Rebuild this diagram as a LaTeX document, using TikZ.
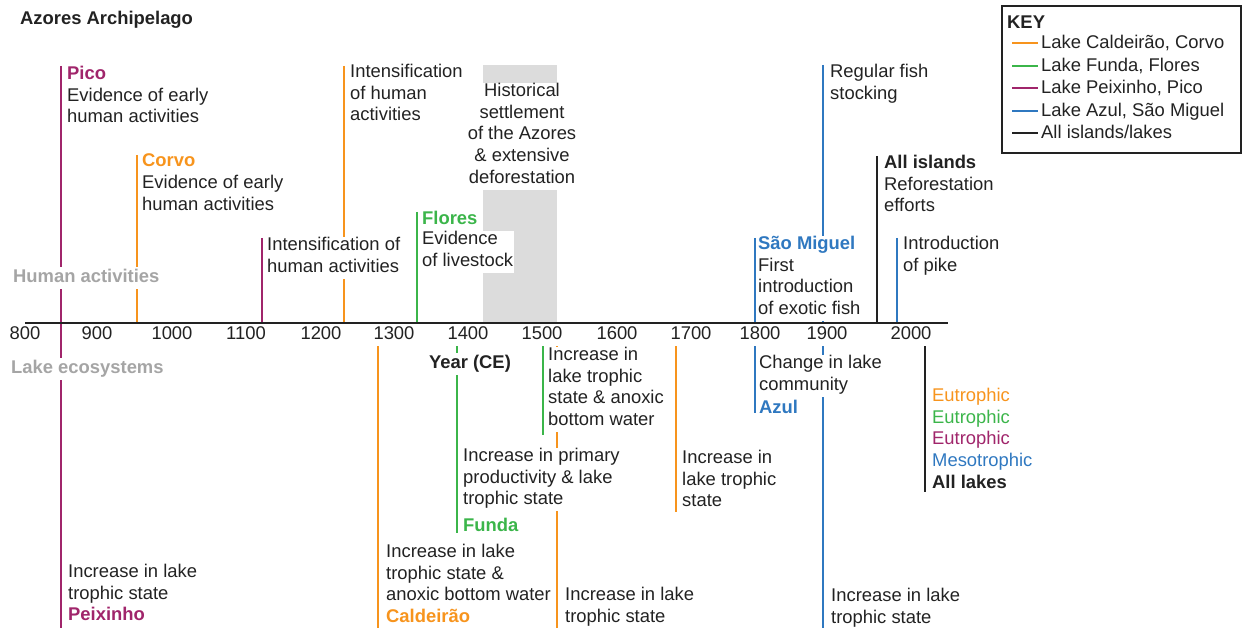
\documentclass[tikz,border=0pt]{standalone}
\usepackage{fontspec}
\setmainfont{Liberation Sans}
\definecolor{cor}{HTML}{F7941D}
\definecolor{cgr}{HTML}{3BB54A}
\definecolor{cmg}{HTML}{A0256B}
\definecolor{cbl}{HTML}{2F78C0}
\definecolor{cgy}{HTML}{A5A5A5}
\definecolor{cbox}{HTML}{DCDCDC}
\definecolor{ctx}{HTML}{222222}
\newcommand\myfs{\fontsize{18.4}{21.8}\selectfont}
\begin{document}
\begin{tikzpicture}[x=1pt,y=-1pt,
  vl/.style={line width=2.8pt},
  txt/.style={anchor=north west, align=left, inner xsep=1pt, inner ysep=0pt, font=\myfs, text=ctx,
    execute at begin node=\strut, execute at end node=\strut},
  txtw/.style={txt, fill=white},
  tick/.style={anchor=north, inner xsep=1pt, inner ysep=0pt, font=\myfs, text=ctx, fill=white,
    execute at begin node=\strut},
  keytxt/.style={anchor=base west, inner sep=0pt, font=\myfs, text=ctx}]
\useasboundingbox (0,0) rectangle (1245,628);

% gray settlement band
\fill[cbox] (483,65) rectangle (557,323);

% vertical lines (upper)
\draw[vl,cmg] (61,66) -- (61,628);
\draw[vl,cor] (137,155) -- (137,323);
\draw[vl,cmg] (262,238) -- (262,323);
\draw[vl,cor] (344,66) -- (344,323);
\draw[vl,cgr] (417,212) -- (417,323);
\draw[vl,cbl] (755,238) -- (755,413);
\draw[vl,cbl] (823,65) -- (823,628);
\draw[vl,ctx] (877,156) -- (877,323);
\draw[vl,cbl] (897,238) -- (897,323);
% vertical lines (lower)
\draw[vl,cor] (378,323) -- (378,628);
\draw[vl,cgr] (457,323) -- (457,533);
\draw[vl,cgr] (543,323) -- (543,435);
\draw[vl,cor] (557,323) -- (557,628);
\draw[vl,cor] (676,323) -- (676,512);
\draw[vl,ctx] (925,323) -- (925,492);

% title
\node[txt,font=\myfs\bfseries] (title) at (19,8.7) {Azores Archipelago};

% side labels
\node[txtw,font=\myfs\bfseries,text=cgy] (human) at (12,266.7) {Human activities};
\node[txtw,font=\myfs\bfseries,text=cgy] (lake) at (10,357.7) {Lake ecosystems};

% upper events
\node[txt] (pico) at (66,65.7) {\textcolor{cmg}{\textbf{Pico}}\\Evidence of early\\human activities};
\node[txt] (corvo) at (141,153.7) {\textcolor{cor}{\textbf{Corvo}}\\Evidence of early\\human activities};
\node[txtw] (intA) at (266,236.7) {Intensification of\\human activities};
\node[txt] (intB) at (349,63.7) {Intensification\\of human\\activities};
\node[txtw,anchor=north,align=center] (hist) at (522,82.7) {Historical\\settlement\\of the Azores\\\& extensive\\deforestation};
\node[txt] (flores) at (421,208.7) {\textcolor{cgr}{\textbf{Flores}}};
\node[txtw] (floresb) at (421,230.7) {Evidence\\of livestock};
\node[txtw] (sm) at (757,235.7) {\textcolor{cbl}{\textbf{São Miguel}}\\First\\introduction\\of exotic fish};
\node[txt] (fish) at (829,63.7) {Regular fish\\stocking};
\node[txt] (allisl) at (883,154.7) {\textbf{All islands}\\Reforestation\\efforts};
\node[txt] (pike) at (902,235.7) {Introduction\\of pike};

% lower events
\node[txt] (peix) at (67,563.7) {Increase in lake\\trophic state\\\textcolor{cmg}{\textbf{Peixinho}}};
\node[txt] (cald) at (385,543.7) {Increase in lake\\trophic state \&\\anoxic bottom water\\\textcolor{cor}{\textbf{Caldeirão}}};
\node[txtw] (fundab) at (462,447.7) {Increase in primary\\productivity \& lake\\trophic state};
\node[txt] (funda) at (462,515.7) {\textcolor{cgr}{\textbf{Funda}}};
\node[txtw] (g1500) at (547,346.7) {Increase in\\lake trophic\\state \& anoxic\\bottom water};
\node[txt] (o1700) at (681,449.7) {Increase in\\lake trophic\\state};
\node[txtw] (azulb) at (758,354.7) {Change in lake\\community};
\node[txt] (azul) at (758,397.7) {\textcolor{cbl}{\textbf{Azul}}};
\node[txt] (o1560) at (564,586.7) {Increase in lake\\trophic state};
\node[txt] (b1900) at (830,587.7) {Increase in lake\\trophic state};
\node[txt] (now) at (931,387.7) {\textcolor{cor}{Eutrophic}\\\textcolor{cgr}{Eutrophic}\\\textcolor{cmg}{Eutrophic}\\\textcolor{cbl}{Mesotrophic}\\\textbf{All lakes}};

% axis ticks labels
\foreach \x/\lab in {25/800,97/900,172/1000,246/1100,321/1200,394/1300,468/1400,542/1500,617/1600,691/1700,760/1800,827/1900,911/2000}
  \node[tick] (t\lab) at (\x,323.7) {\lab};
\node[tick,font=\myfs\bfseries] (yearlab) at (470,352.7) {Year (CE)};

% axis
\coordinate (axL) at (25,323);
\coordinate (axR) at (948,323);
\draw[line width=2.2pt,ctx] (axL) -- (axR);

% key
\draw[line width=2.2pt,ctx] (1002,6) rectangle (1241,153);
\node[keytxt,font=\myfs\bfseries] (keyt) at (1007,29) {KEY};
\foreach \y/\c/\t [count=\i] in {43/cor/{Lake Caldeirão, Corvo},66/cgr/{Lake Funda, Flores},88/cmg/{Lake Peixinho, Pico},111/cbl/{Lake Azul, São Miguel},133/ctx/{All islands/lakes}}{
  \draw[vl,\c] (1012,\y) -- (1038,\y);
  \node[keytxt] (key\i) at (1041,\y+6) {\t};
}
\end{tikzpicture}
\end{document}
